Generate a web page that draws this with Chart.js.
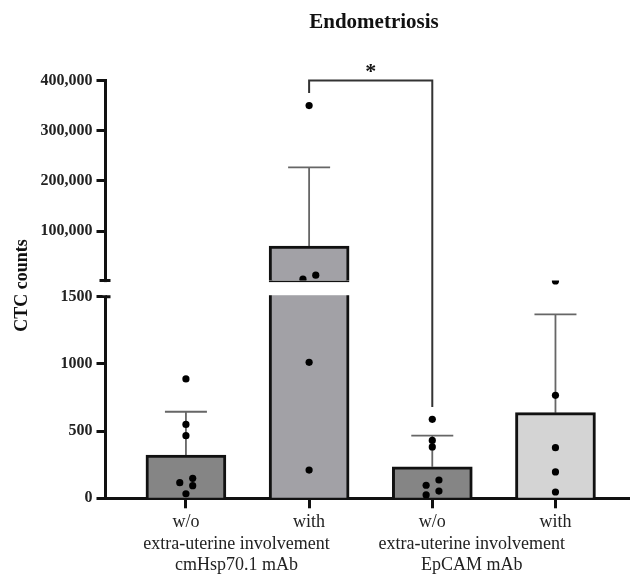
<!DOCTYPE html>
<html><head><meta charset="utf-8">
<script src="https://cdn.jsdelivr.net/npm/chart.js@4/dist/chart.umd.min.js"></script>
<style>html,body{margin:0;padding:0;background:#fff}canvas{display:block}</style>
</head><body>
<canvas id="c" width="633" height="578"></canvas>
<script>
// ---- data ----
const categories = ['w/o', 'with', 'w/o', 'with'];
const groupLabels = [['extra-uterine involvement', 'cmHsp70.1 mAb'], ['extra-uterine involvement', 'EpCAM mAb']];
const barMeans = [322, 70000, 235, 637];
const errorTops = [644, 227000, 466, 1369];
const dotsWoHsp = [888, 550, 466, 149, 116, 94, 34];
const dotsWithHsp = [350000, 12300, 4300, 1012, 210];
const dotsWoEp = [588, 431, 382, 136, 97, 54, 25];
const dotsWithEp = [1617, 766, 377, 196, 47];
const lowerTicks = [0, 500, 1000, 1500];
const upperTicks = [100000, 200000, 300000, 400000];
const lowerRange = [0, 1620];
const upperRange = [1500, 400000];
const bracket = { from: 1, to: 2, level: 400000, leftEnd: 375000, rightEnd: 680, mark: '*' };

// ---- layout / style ----
const jitter = [
  [0, 0, 0, 0.055, -0.05, 0.055, 0],
  [0, 0.054, -0.05, 0, 0],
  [0, 0, 0, 0.054, -0.05, 0.054, -0.05],
  [0, 0, 0, 0, 0]
];
const groupLabelPos = [0.41, 2.32];
const barColors = ['#858585', '#a2a1a6', '#858585', '#d4d4d4'];
const FONT = '"Liberation Serif", "Times New Roman", serif';
Chart.defaults.font.family = FONT;

const groups = [dotsWoHsp, dotsWithHsp, dotsWoEp, dotsWithEp];
const lowerDots = [], upperDots = [];
groups.forEach((g, i) => g.forEach((v, j) => {
  const p = { x: i + jitter[i][j], y: v };
  (v > lowerRange[1] ? upperDots : lowerDots).push(p);
}));

const fmt = v => String(v).replace(/\B(?=(\d{3})+(?!\d))/g, ',');

const decor = {
  id: 'decor',
  beforeDatasetsDraw(chart) {
    const ctx = chart.ctx, xs = chart.scales.x;
    ctx.save();
    ctx.strokeStyle = '#666';
    ctx.lineWidth = 1.8;
    barMeans.forEach((m, i) => {
      const sc = m > lowerRange[1] ? chart.scales.yTop : chart.scales.y;
      const x = xs.getPixelForValue(i);
      const y0 = sc.getPixelForValue(m), y1 = sc.getPixelForValue(errorTops[i]);
      ctx.beginPath();
      ctx.moveTo(x, y0); ctx.lineTo(x, y1);
      ctx.moveTo(x - 21, y1); ctx.lineTo(x + 21, y1);
      ctx.stroke();
    });
    ctx.restore();
  },
  afterDatasetsDraw(chart) {
    const ctx = chart.ctx, xs = chart.scales.x, yT = chart.scales.yTop, yL = chart.scales.y;
    const left = chart.chartArea.left;
    const gTop = yT.bottom + 1.5;
    const gBot = yL.getPixelForValue(lowerTicks[lowerTicks.length - 1]) - 1.5;
    ctx.save();
    ctx.fillStyle = '#fff';
    if (gBot > gTop) {
      ctx.fillRect(left - 3, gTop, 6, gBot - gTop);
      barMeans.forEach((m, i) => {
        if (m > lowerRange[1]) {
          const x = xs.getPixelForValue(i);
          ctx.fillRect(x - 43, gTop, 86, gBot - gTop);
        }
      });
    }
    // break caps
    ctx.strokeStyle = '#111';
    ctx.lineWidth = 3;
    ctx.beginPath();
    ctx.moveTo(left - 6, yT.bottom); ctx.lineTo(left + 5, yT.bottom);
    const y15 = yL.getPixelForValue(lowerTicks[lowerTicks.length - 1]);
    ctx.moveTo(left, y15); ctx.lineTo(left + 5, y15);
    ctx.stroke();
    // significance bracket
    const bx1 = xs.getPixelForValue(bracket.from), bx2 = xs.getPixelForValue(bracket.to);
    const by = yT.getPixelForValue(bracket.level);
    ctx.strokeStyle = '#333';
    ctx.lineWidth = 2;
    ctx.beginPath();
    ctx.moveTo(bx1, yT.getPixelForValue(bracket.leftEnd));
    ctx.lineTo(bx1, by);
    ctx.lineTo(bx2, by);
    ctx.lineTo(bx2, yL.getPixelForValue(bracket.rightEnd));
    ctx.stroke();
    ctx.fillStyle = '#111';
    ctx.font = 'bold 22px ' + FONT;
    ctx.textAlign = 'center';
    ctx.textBaseline = 'alphabetic';
    ctx.fillText(bracket.mark, (bx1 + bx2) / 2, 78);
    // title
    ctx.font = 'bold 21px ' + FONT;
    ctx.fillText('Endometriosis', 374, 28);
    // y title
    ctx.save();
    ctx.translate(22.5, 285.5);
    ctx.rotate(-Math.PI / 2);
    ctx.font = 'bold 18px ' + FONT;
    ctx.textBaseline = 'middle';
    ctx.fillText('CTC counts', 0, 0);
    ctx.restore();
    // group labels
    ctx.font = '18px ' + FONT;
    ctx.fillStyle = '#222';
    ctx.textBaseline = 'middle';
    groupLabels.forEach((lines, g) => {
      const x = xs.getPixelForValue(groupLabelPos[g]);
      lines.forEach((t, k) => ctx.fillText(t, x, 544 + k * 21));
    });
    ctx.restore();
  }
};

const yCommon = () => ({
  type: 'linear', position: 'left', stack: 'ys', bounds: 'data',
  grid: { drawOnChartArea: false, tickLength: 9, tickWidth: 3, tickColor: '#111' },
  border: { width: 3, color: '#111' },
  afterFit: s => { s.width = 105.5; }
});

new Chart(document.getElementById('c'), {
  data: {
    datasets: [
      { type: 'scatter', data: lowerDots, xAxisID: 'x', yAxisID: 'y', pointRadius: 3.6, pointBackgroundColor: '#000', pointBorderWidth: 0, order: 0 },
      { type: 'scatter', data: upperDots, xAxisID: 'x', yAxisID: 'yTop', pointRadius: 3.6, pointBackgroundColor: '#000', pointBorderWidth: 0, order: 0 },
      { type: 'bar', data: barMeans.map((v, i) => ({ x: i, y: Math.min(v, lowerRange[1]) })), xAxisID: 'x', yAxisID: 'y',
        backgroundColor: barColors, borderColor: '#111', borderWidth: 3, borderSkipped: 'start', barThickness: 80, grouped: false, order: 1 },
      { type: 'bar', data: barMeans.map((v, i) => ({ x: i, y: v > lowerRange[1] ? v : null })), xAxisID: 'x', yAxisID: 'yTop',
        backgroundColor: barColors, borderColor: '#111', borderWidth: 3, borderSkipped: 'start', barThickness: 80, grouped: false, order: 1 }
    ]
  },
  options: {
    responsive: false,
    animation: false,
    devicePixelRatio: 1,
    layout: { padding: { top: 80.5, left: 0, right: 0, bottom: 0 } },
    plugins: { legend: { display: false }, tooltip: { enabled: false } },
    scales: {
      y: Object.assign(yCommon(), {
        stackWeight: 217.6, min: lowerRange[0], max: lowerRange[1],
        afterBuildTicks: s => { s.ticks = lowerTicks.map(v => ({ value: v })); },
        ticks: { callback: v => String(v), font: { size: 16, weight: 'bold' }, color: '#222', padding: 4 }
      }),
      yTop: Object.assign(yCommon(), {
        stackWeight: 200, min: upperRange[0], max: upperRange[1],
        afterBuildTicks: s => { s.ticks = upperTicks.map(v => ({ value: v })); },
        ticks: { callback: v => fmt(v), font: { size: 16, weight: 'bold' }, color: '#222', padding: 4 }
      }),
      x: {
        type: 'linear', position: 'bottom', min: -0.653, max: 3.597, bounds: 'data', z: 1, offset: false,
        afterBuildTicks: s => { s.ticks = categories.map((c, i) => ({ value: i })); },
        ticks: { callback: v => categories[v], font: { size: 18 }, color: '#222', padding: 3, maxRotation: 0, autoSkip: false },
        grid: { offset: false, drawOnChartArea: false, tickLength: 10, tickWidth: 3, tickColor: '#111' },
        border: { width: 3, color: '#111' },
        afterFit: s => { s.height = 79.7; }
      }
    }
  },
  plugins: [decor]
});
</script>
</body></html>
